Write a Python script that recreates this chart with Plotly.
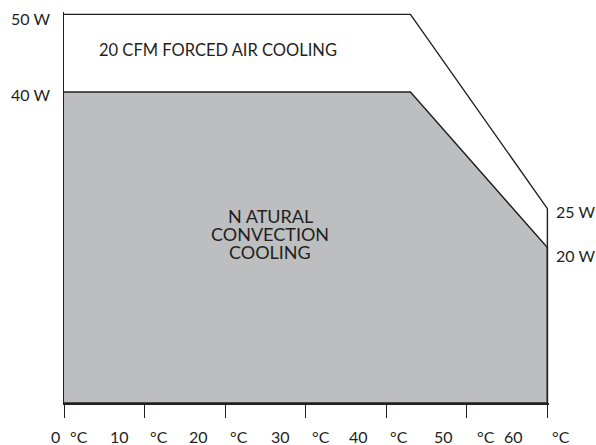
import plotly.graph_objects as go

# Data
temps_ticks = [0, 10, 20, 30, 40, 50, 60]
forced_temp = [0, 43, 60, 60]
forced_power = [50, 50, 25, 0]
natural_temp = [0, 43, 60, 60, 0]
natural_power = [40, 40, 20, 0, 0]
left_power_labels = [50, 40]
right_power_labels = [25, 20]
natural_label_lines = ["N ATURAL", "CONVECTION", "COOLING"]

INK = "#231F20"
GRAY = "#BCBEC0"
FONT = "Lato"

fig = go.Figure()
fig.add_trace(go.Scatter(x=natural_temp, y=natural_power, mode="lines", fill="toself",
                         fillcolor=GRAY, line=dict(color=INK, width=1.4), hoverinfo="skip"))
fig.add_trace(go.Scatter(x=forced_temp, y=forced_power, mode="lines",
                         line=dict(color=INK, width=1.4), hoverinfo="skip"))

ann = []
# x tick labels: number left of tick, "°C" right of tick
num_shift = [-2, -14, -15, -14, -16, -12, -22]
deg_shift = [4, 3, 3, 4, 2, 8, 3]
for t, ns, ds in zip(temps_ticks, num_shift, deg_shift):
    ann.append(dict(x=t, y=0, xref="x", yref="y", text=str(t), showarrow=False,
                    xanchor="right", yanchor="middle", xshift=ns, yshift=-33,
                    font=dict(family=FONT, size=16, color=INK)))
    ann.append(dict(x=t, y=0, xref="x", yref="y", text="°C", showarrow=False,
                    xanchor="left", yanchor="middle", xshift=ds, yshift=-33,
                    font=dict(family=FONT, size=16, color=INK)))
# left power labels
for p, ys in zip(left_power_labels, [-4, -2]):
    ann.append(dict(x=0, y=p, xref="x", yref="y", text=f"{p} W", showarrow=False,
                    xanchor="right", yanchor="middle", xshift=-12, yshift=ys,
                    font=dict(family=FONT, size=16, color=INK)))
# right power labels
for p, ys in zip(right_power_labels, [-3, -8]):
    ann.append(dict(x=60, y=p, xref="x", yref="y", text=f"{p} W", showarrow=False,
                    xanchor="left", yanchor="middle", xshift=7, yshift=ys,
                    font=dict(family=FONT, size=16, color=INK)))
# region labels
ann.append(dict(x=0, y=45.4, xref="x", yref="y", text="20 CFM FORCED AIR COOLING", showarrow=False,
                xanchor="left", yanchor="middle", xshift=33,
                font=dict(family=FONT, size=16.5, color=INK)))
for line, yy in zip(natural_label_lines, [24.0, 21.7, 19.4]):
    ann.append(dict(x=25.6, y=yy, xref="x", yref="y", text=line,
                    showarrow=False, xanchor="center", yanchor="middle",
                    font=dict(family=FONT, size=18, color=INK)))

fig.update_layout(
    width=596, height=445,
    margin=dict(l=64, r=47, t=12, b=42),
    paper_bgcolor="white", plot_bgcolor="white",
    showlegend=False,
    annotations=ann,
    xaxis=dict(range=[0, 60.2], showgrid=False, zeroline=False, showline=True,
               linecolor=INK, linewidth=2, ticks="outside", ticklen=13, tickwidth=1.2,
               tickcolor=INK, tickvals=temps_ticks, showticklabels=False),
    yaxis=dict(range=[0, 50.3], showgrid=False, zeroline=False, showline=True,
               linecolor=INK, linewidth=1.4, ticks="", showticklabels=False),
)

fig.write_html("out.html", config={"displayModeBar": False},
               post_script="document.body.style.margin='0';document.body.style.overflow='hidden';")
